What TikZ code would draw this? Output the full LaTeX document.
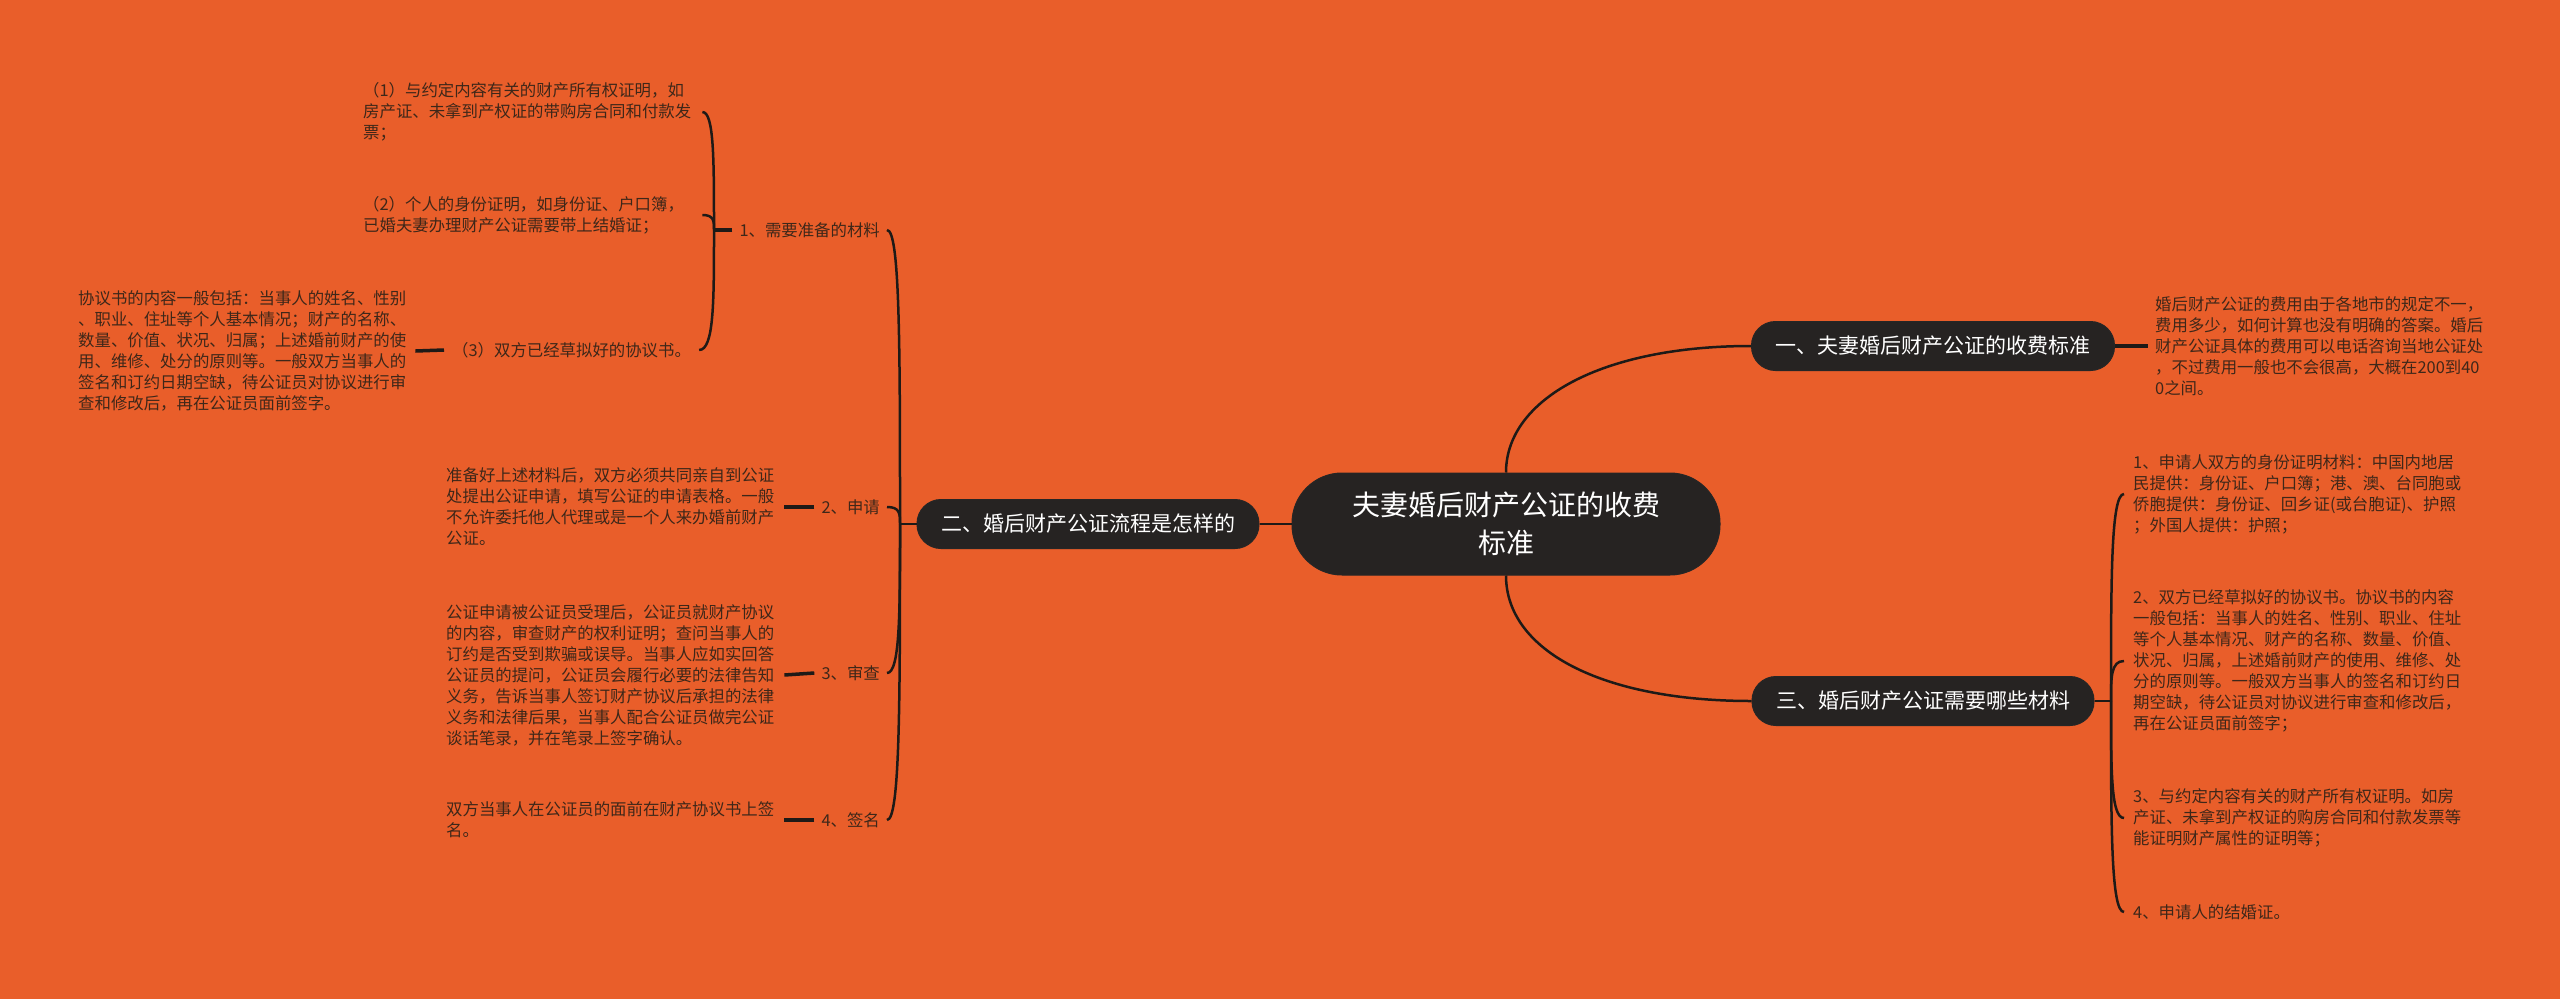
\documentclass[tikz,border=0pt]{standalone}
\usepackage{fontspec}
\newfontfamily\cjk{Noto Sans CJK SC}
\usetikzlibrary{calc}
\definecolor{bgc}{HTML}{E95E2A}
\definecolor{nodec}{HTML}{262322}
\definecolor{linec}{HTML}{1E1A17}
\definecolor{leafc}{HTML}{3E2719}
\newcommand\bracelink[2]{%
  \path (#1 |- #2) coordinate (tmpk);
  \draw[conn] (#1) .. controls ($(#1)!0.6!(tmpk)$) and (tmpk) .. (#2);}
\begin{document}
\begin{tikzpicture}[x=1pt,y=-1pt,
  conn/.style={draw=linec,line width=2.5pt},
  tick/.style={draw=linec,line width=3.5pt},
  topic/.style={fill=nodec,draw=black!85,line width=1pt,rounded corners=24pt,minimum height=49pt,inner xsep=24pt,inner ysep=0pt,text=white,font={\cjk\fontsize{21}{26}\selectfont}},
  centre/.style={fill=nodec,draw=black!85,line width=1pt,rounded corners=50pt,minimum width=428pt,minimum height=102pt,align=center,text=white,font={\cjk\fontsize{28}{38}\selectfont}},
  leaf/.style={text=leafc,font={\cjk\fontsize{16.4}{21}\selectfont},align=left,inner ysep=2pt},
  leafw/.style={leaf,text width=330pt},
  lab/.style={text=leafc,font={\cjk\fontsize{16.4}{21}\selectfont},inner xsep=7pt,inner ysep=2pt}
]
\fill[bgc] (0,0) rectangle (2560,999);
\useasboundingbox (0,0) rectangle (2560,999);

% main nodes
\node[centre] (c) at (1506,524) {夫妻婚后财产公证的收费\\标准};
\node[topic] (b1) at (1933,346) {一、夫妻婚后财产公证的收费标准};
\node[topic] (b2) at (1088,524) {二、婚后财产公证流程是怎样的};
\node[topic] (b3) at (1923,701) {三、婚后财产公证需要哪些材料};

% branch 1 leaf
\node[leaf,anchor=west,inner xsep=7pt] (r1) at (2148,346) {婚后财产公证的费用由于各地市的规定不一，\\费用多少，如何计算也没有明确的答案。婚后\\财产公证具体的费用可以电话咨询当地公证处\\，不过费用一般也不会很高，大概在200到40\\0之间。};

% branch 3 leaves
\node[leaf,anchor=west,inner xsep=9pt] (r3a) at (2124,494) {1、申请人双方的身份证明材料：中国内地居\\民提供：身份证、户口簿；港、澳、台同胞或\\侨胞提供：身份证、回乡证(或台胞证)、护照\\；外国人提供：护照；};
\node[leaf,anchor=west,inner xsep=9pt] (r3b) at (2124,661) {2、双方已经草拟好的协议书。协议书的内容\\一般包括：当事人的姓名、性别、职业、住址\\等个人基本情况、财产的名称、数量、价值、\\状况、归属，上述婚前财产的使用、维修、处\\分的原则等。一般双方当事人的签名和订约日\\期空缺，待公证员对协议进行审查和修改后，\\再在公证员面前签字；};
\node[leaf,anchor=west,inner xsep=9pt] (r3c) at (2124,818) {3、与约定内容有关的财产所有权证明。如房\\产证、未拿到产权证的购房合同和付款发票等\\能证明财产属性的证明等；};
\node[leaf,anchor=west,inner xsep=9pt] (r3d) at (2124,912) {4、申请人的结婚证。};

% branch 2 labels
\node[lab,anchor=east] (l1) at (887,230) {1、需要准备的材料};
\node[lab,anchor=east] (l2) at (887,507) {2、申请};
\node[lab,anchor=east] (l3) at (887,673) {3、审查};
\node[lab,anchor=east] (l4) at (887,820) {4、签名};

% branch 2 leaves
\node[leafw,anchor=west,inner xsep=8pt] (t2) at (438,507) {准备好上述材料后，双方必须共同亲自到公证\\处提出公证申请，填写公证的申请表格。一般\\不允许委托他人代理或是一个人来办婚前财产\\公证。};
\node[leafw,anchor=west,inner xsep=8pt] (t3) at (438,675) {公证申请被公证员受理后，公证员就财产协议\\的内容，审查财产的权利证明；查问当事人的\\订约是否受到欺骗或误导。当事人应如实回答\\公证员的提问，公证员会履行必要的法律告知\\义务，告诉当事人签订财产协议后承担的法律\\义务和法律后果，当事人配合公证员做完公证\\谈话笔录，并在笔录上签字确认。};
\node[leafw,anchor=west,inner xsep=8pt] (t4) at (438,820) {双方当事人在公证员的面前在财产协议书上签\\名。};

% item 1 children
\node[leafw,anchor=west,inner xsep=9pt] (m1) at (354,112) {（1）与约定内容有关的财产所有权证明，如\\房产证、未拿到产权证的带购房合同和付款发\\票；};
\node[leafw,anchor=west,inner xsep=9pt] (m2) at (354,215) {（2）个人的身份证明，如身份证、户口簿，\\已婚夫妻办理财产公证需要带上结婚证；};
\node[leaf,anchor=west,inner xsep=8pt] (m3) at (444,350) {（3）双方已经草拟好的协议书。};
\node[leafw,anchor=west,inner xsep=7pt] (m3a) at (71,351) {协议书的内容一般包括：当事人的姓名、性别\\、职业、住址等个人基本情况；财产的名称、\\数量、价值、状况、归属；上述婚前财产的使\\用、维修、处分的原则等。一般双方当事人的\\签名和订约日期空缺，待公证员对协议进行审\\查和修改后，再在公证员面前签字。};

% junctions
\coordinate (J1) at (714,230);
\coordinate (J2) at (900,524);
\coordinate (J3) at (2111,701);

% connectors
\draw[conn] (c.north) .. controls ($(c.north)+(0,-73)$) and ($(b1.west)+(-150,0)$) .. (b1.west);
\draw[conn] (c.south) .. controls ($(c.south)+(0,75)$) and ($(b3.west)+(-150,0)$) .. (b3.west);
\draw[conn] (c.west) -- (b2.east);
\draw[tick] (b1.east) -- (r1.west);

\draw[conn] (b3.east) -- (J3);
\bracelink{J3}{r3a.west}
\bracelink{J3}{r3b.west}
\bracelink{J3}{r3c.west}
\bracelink{J3}{r3d.west}

\draw[conn] (b2.west) -- (J2);
\bracelink{J2}{l1.east}
\bracelink{J2}{l2.east}
\bracelink{J2}{l3.east}
\bracelink{J2}{l4.east}

\draw[tick] (l2.west) -- (t2.east);
\draw[tick] (l3.west) -- (t3.east);
\draw[tick] (l4.west) -- (t4.east);

\draw[tick] (l1.west) -- (J1);
\bracelink{J1}{m1.east}
\bracelink{J1}{m2.east}
\bracelink{J1}{m3.east}
\draw[tick] (m3.west) -- (m3a.east);
\end{tikzpicture}
\end{document}
